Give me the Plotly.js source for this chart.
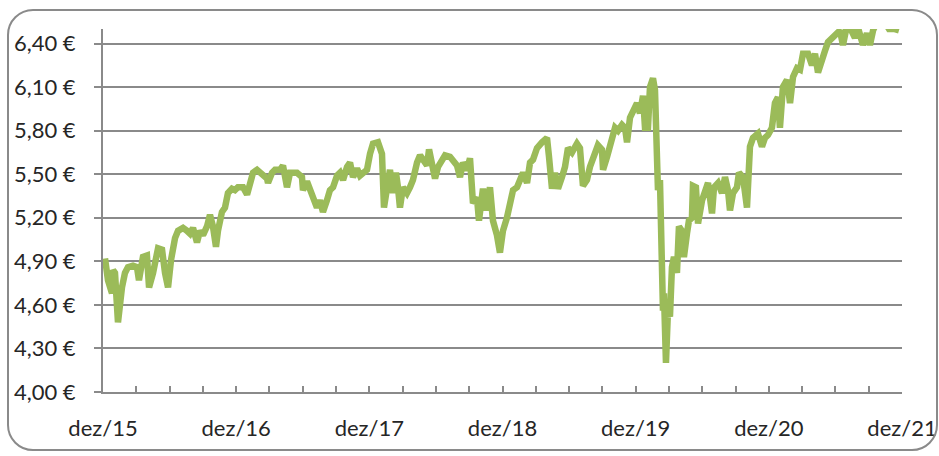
<!DOCTYPE html>
<html>
<head>
<meta charset="utf-8">
<script src="https://cdn.plot.ly/plotly-3.0.1.min.js"></script>
<style>
  html, body { margin: 0; padding: 0; background: #fff; }
  #wrap { position: relative; width: 939px; height: 456px; overflow: hidden; }
  #chart { position: absolute; left: 0; top: 0; width: 939px; height: 456px; }
  #frame { position: absolute; left: 7px; top: 9px; width: 931px; height: 442px;
           border: 2px solid #8a8a8a; border-radius: 26px; pointer-events: none; box-sizing: border-box; }
</style>
</head>
<body>
<div id="wrap">
  <div id="chart"></div>
  <div id="frame"></div>
</div>
<script>
// Months elapsed since December 2015
const monthsSinceDec15 = [
  0.18,0.45,0.81,0.90,1.08,1.35,1.71,1.98,2.25,2.70,3.06,3.24,3.60,3.96,4.15,4.51,4.96,5.32,5.59,5.86,
  6.13,6.49,6.76,7.21,7.57,7.84,8.11,8.47,8.74,9.01,9.37,9.64,9.91,10.18,10.36,10.72,10.99,11.26,11.62,11.89,
  12.16,12.62,12.98,13.25,13.52,13.88,14.15,14.42,14.78,14.87,15.23,15.50,15.95,16.22,16.58,16.85,17.12,17.48,
  17.93,18.02,18.38,18.65,18.92,19.28,19.55,19.82,20.18,20.45,20.73,21.09,21.36,21.63,21.99,22.26,22.53,22.89,
  23.16,23.43,23.79,24.06,24.33,24.78,25.14,25.32,25.59,25.86,26.13,26.40,26.58,26.76,27.03,27.39,27.66,27.93,
  28.30,28.57,28.84,29.20,29.38,29.65,29.92,30.19,30.55,30.82,31.27,31.54,31.90,32.17,32.44,32.80,33.07,33.34,
  33.70,33.88,34.24,34.51,34.87,35.14,35.50,35.77,36.04,36.40,36.68,36.95,37.31,37.58,37.85,38.21,38.48,38.75,
  39.11,39.56,40.01,40.19,40.46,40.73,41.00,41.36,41.63,41.90,42.26,42.71,42.98,43.25,43.61,43.88,44.15,44.60,
  44.96,45.06,45.42,45.69,46.14,46.41,46.77,47.04,47.22,47.49,47.76,48.12,48.39,48.66,48.84,49.11,49.29,49.56,
  49.74,49.83,50.01,50.19,50.28,50.46,50.55,50.73,50.91,51.09,51.27,51.45,51.72,51.90,52.17,52.35,52.62,52.80,
  53.07,53.16,53.43,53.62,53.98,54.25,54.52,54.88,55.06,55.42,55.78,56.05,56.32,56.50,56.77,57.13,57.31,57.67,
  58.03,58.30,58.57,59.02,59.38,59.65,59.92,60.28,60.55,60.82,61.00,61.27,61.64,61.91,62.18,62.54,62.81,63.08,
  63.53,63.89,64.16,64.43,64.79,65.06,65.33,65.78,66.14,66.41,66.68,66.95,67.31,67.76,68.03,68.48,68.84,69.11,
  69.39,69.75,70.20,70.56,70.83,71.28,71.73
];

// Share price in euros
const priceEUR = [
  4.92,4.77,4.68,4.84,4.82,4.48,4.72,4.82,4.86,4.87,4.86,4.77,4.93,4.94,4.72,4.82,4.99,4.98,4.82,4.72,
  4.91,5.06,5.11,5.13,5.11,5.09,5.13,5.03,5.11,5.08,5.14,5.22,5.14,5.00,5.11,5.24,5.27,5.37,5.40,5.39,
  5.41,5.41,5.36,5.44,5.51,5.53,5.51,5.49,5.47,5.44,5.51,5.53,5.53,5.56,5.41,5.51,5.51,5.51,
  5.48,5.39,5.45,5.39,5.34,5.27,5.32,5.24,5.32,5.39,5.41,5.49,5.51,5.46,5.55,5.58,5.48,5.54,
  5.49,5.51,5.53,5.64,5.71,5.72,5.64,5.27,5.44,5.53,5.37,5.51,5.41,5.27,5.41,5.37,5.41,5.46,
  5.58,5.63,5.60,5.56,5.67,5.55,5.47,5.55,5.60,5.63,5.62,5.60,5.56,5.48,5.58,5.53,5.61,5.30,
  5.34,5.18,5.40,5.25,5.41,5.18,5.08,4.96,5.11,5.20,5.30,5.39,5.41,5.46,5.51,5.44,5.58,5.60,
  5.68,5.72,5.75,5.62,5.40,5.51,5.40,5.48,5.55,5.68,5.65,5.71,5.68,5.42,5.46,5.55,5.60,5.70,
  5.67,5.53,5.62,5.69,5.82,5.80,5.84,5.82,5.72,5.89,5.94,5.99,5.92,6.04,5.82,5.82,6.10,6.16,
  6.08,5.60,5.39,5.46,4.91,4.56,4.68,4.20,4.56,4.52,4.86,4.93,4.82,5.14,5.11,4.93,5.09,5.18,
  5.20,5.42,5.41,5.16,5.32,5.39,5.44,5.23,5.41,5.44,5.37,5.48,5.39,5.25,5.37,5.41,5.51,5.48,
  5.27,5.69,5.75,5.78,5.69,5.75,5.77,5.82,5.99,6.03,5.82,6.10,6.15,5.99,6.17,6.23,6.22,6.33,
  6.33,6.25,6.33,6.20,6.31,6.35,6.41,6.44,6.47,6.49,6.39,6.49,6.51,6.44,6.51,6.39,6.47,6.39,
  6.49,6.55,6.58,6.52,6.50,6.50,6.49
];

const xTickVals = [0, 12, 24, 36, 48, 60, 72];
const xTickText = ['dez/15', 'dez/16', 'dez/17', 'dez/18', 'dez/19', 'dez/20', 'dez/21'];
const yTickVals = [4.0, 4.3, 4.6, 4.9, 5.2, 5.5, 5.8, 6.1, 6.4];
const yTickText = ['4,00 €', '4,30 €', '4,60 €', '4,90 €', '5,20 €', '5,50 €', '5,80 €', '6,10 €', '6,40 €'];

const gray = '#8a8a8a';
const fontFam = 'Lato, "Open Sans", sans-serif';

const trace = {
  x: monthsSinceDec15,
  y: priceEUR,
  type: 'scatter',
  mode: 'lines',
  line: { color: '#9bbb59', width: 6.5 },
  hoverinfo: 'skip'
};

const layout = {
  width: 939,
  height: 456,
  margin: { l: 103, r: 37, t: 29, b: 64 },
  paper_bgcolor: '#ffffff',
  plot_bgcolor: '#ffffff',
  showlegend: false,
  font: { family: fontFam, size: 22, color: '#262626' },
  xaxis: {
    range: [0, 72],
    tickmode: 'array',
    tickvals: xTickVals,
    ticktext: xTickText,
    ticks: 'inside',
    ticklen: 6,
    tickwidth: 2,
    tickcolor: gray,
    showgrid: false,
    zeroline: false,
    showline: true,
    linecolor: gray,
    linewidth: 2,
    ticklabelstandoff: 16,
    minor: { dtick: 3, tick0: 0, ticks: 'inside', ticklen: 6, tickwidth: 2, tickcolor: gray, showgrid: false },
    tickfont: { family: fontFam, size: 22, color: '#262626' },
    fixedrange: true
  },
  yaxis: {
    range: [4.0, 6.5],
    tickmode: 'array',
    tickvals: yTickVals,
    ticktext: yTickText,
    ticks: 'outside',
    ticklen: 7,
    tickwidth: 2,
    tickcolor: gray,
    showgrid: true,
    gridcolor: gray,
    gridwidth: 2,
    zeroline: false,
    showline: true,
    linecolor: gray,
    linewidth: 2,
    ticklabelstandoff: 14,
    tickfont: { family: fontFam, size: 22, color: '#262626' },
    fixedrange: true
  }
};

Plotly.newPlot('chart', [trace], layout, { displayModeBar: false, staticPlot: true });
</script>
</body>
</html>
